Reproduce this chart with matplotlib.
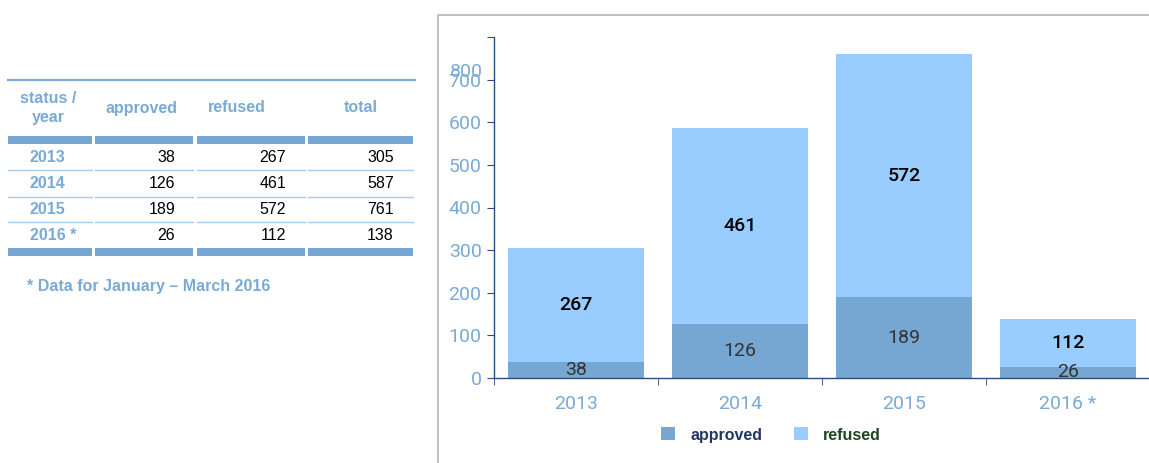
import matplotlib.pyplot as plt
from matplotlib.lines import Line2D
from matplotlib.patches import Rectangle

years = ['2013', '2014', '2015', '2016 *']
approved = [38, 126, 189, 26]
refused = [267, 461, 572, 112]
totals = [305, 587, 761, 138]
yticks = [0, 100, 200, 300, 400, 500, 600, 700, 800]

W, H = 1149, 463
c_app = '#76a7d2'
c_ref = '#99ccff'
c_txt = '#7aaad6'
c_axis = '#2f4f7a'

fig = plt.figure(figsize=(W / 100, H / 100), dpi=100)


def fx(x):
    return x / W


def fy(y):
    return 1 - y / H


def hline(x0, x1, y, color, lw):
    fig.add_artist(Line2D([fx(x0), fx(x1)], [fy(y), fy(y)], color=color, lw=lw,
                          transform=fig.transFigure))


def hbar(x0, x1, y0, y1, color):
    fig.add_artist(Rectangle((fx(x0), fy(y1)), fx(x1) - fx(x0), fy(y0) - fy(y1),
                             color=color, lw=0, transform=fig.transFigure))


# ---- table on the left ----
tfont = dict(family='Liberation Sans', fontsize=11.5)
cols = [(8, 92), (95, 193), (197, 305), (308, 413)]

hline(8, 415, 80, '#7faad5', 1.6)
fig.text(fx(48), fy(108), 'status /\nyear', ha='center', va='center', color=c_txt,
         weight='bold', linespacing=1.4, **tfont)
fig.text(fx(142), fy(108), 'approved', ha='center', va='center', color=c_txt, weight='bold', **tfont)
fig.text(fx(237), fy(108), 'refused', ha='center', va='center', color=c_txt, weight='bold', **tfont)
fig.text(fx(361), fy(108), 'total', ha='center', va='center', color=c_txt, weight='bold', **tfont)
for x0, x1 in cols:
    hbar(x0, x1, 136, 144, c_app)
    hbar(x0, x1, 248, 256, c_app)

row_y = [157, 184, 209.5, 235.5]
for i, yr in enumerate(years):
    y = row_y[i]
    if yr.endswith('*'):
        fig.text(fx(30), fy(y), yr, ha='left', va='center', color=c_txt, weight='bold', **tfont)
    else:
        fig.text(fx(47), fy(y), yr, ha='center', va='center', color=c_txt, weight='bold', **tfont)
    fig.text(fx(175), fy(y), str(approved[i]), ha='right', va='center', color='black', **tfont)
    fig.text(fx(286), fy(y), str(refused[i]), ha='right', va='center', color='black', **tfont)
    fig.text(fx(394), fy(y), str(totals[i]), ha='right', va='center', color='black', **tfont)
    if i < len(years) - 1:
        for x0, x1 in cols:
            hline(x0, x1, y + 12.5, '#a9c9e8', 1.0)

fig.text(fx(27), fy(286), '* Data for January \u2013 March 2016', ha='left', va='center',
         color=c_txt, weight='bold', **tfont)

# ---- chart frame ----
fig.add_artist(Line2D([fx(438), fx(438), 1], [0, fy(15), fy(15)], color='#bbbbbb', lw=1.3,
                      transform=fig.transFigure))

# ---- stacked bars ----
ax = fig.add_axes([fx(494), fy(378), fx(1150) - fx(494), fy(37) - fy(378)])
x = list(range(len(years)))
b1 = ax.bar(x, approved, width=0.835, color=c_app, label='approved')
b2 = ax.bar(x, refused, width=0.835, bottom=approved, color=c_ref, label='refused')
ax.bar_label(b1, labels=[str(v) for v in approved], label_type='center', color='#333333',
             fontsize=14, family='Roboto')
ax.bar_label(b2, labels=[str(v) for v in refused], label_type='center', color='black',
             fontsize=14, family='Roboto', weight='medium')

ax.set_xlim(-0.5, len(years) - 0.5)
ax.set_ylim(0, 800)
ax.set_yticks(yticks)
ax.set_yticklabels([str(v) if v < 800 else '' for v in yticks])
# the reference draws its 800 label pushed down onto the 700 one
ax.annotate('800', xy=(0, 800), xycoords=('axes fraction', 'data'), xytext=(-8, -25),
            textcoords='offset points', ha='right', va='center', color=c_txt,
            fontsize=14, family='Roboto')
ax.set_xticks(x)
ax.set_xticklabels(years)
ax.set_xticks([i - 0.5 for i in x], minor=True)
ax.tick_params(axis='x', which='major', length=0, pad=12, labelcolor=c_txt, labelsize=14)
ax.tick_params(axis='x', which='minor', length=5, color=c_axis, direction='out')
ax.tick_params(axis='y', length=5, color=c_axis, labelcolor=c_txt, labelsize=14, pad=4)
for lab in ax.get_xticklabels() + ax.get_yticklabels():
    lab.set_family('Roboto')
for s in ['top', 'right']:
    ax.spines[s].set_visible(False)
for s in ['left', 'bottom']:
    ax.spines[s].set_color(c_axis)
    ax.spines[s].set_linewidth(1.0)

leg = fig.legend(handles=[b1, b2], loc='center', bbox_to_anchor=(fx(771), fy(435)), ncol=2,
                 frameon=False, handlelength=0.875, handleheight=0.875, columnspacing=2.0,
                 handletextpad=0.95, prop=dict(family='Liberation Sans', size=11.5, weight='bold'))
leg.get_texts()[0].set_color('#1f3864')
leg.get_texts()[1].set_color('#1e4620')

fig.savefig('out.png', dpi=100)
